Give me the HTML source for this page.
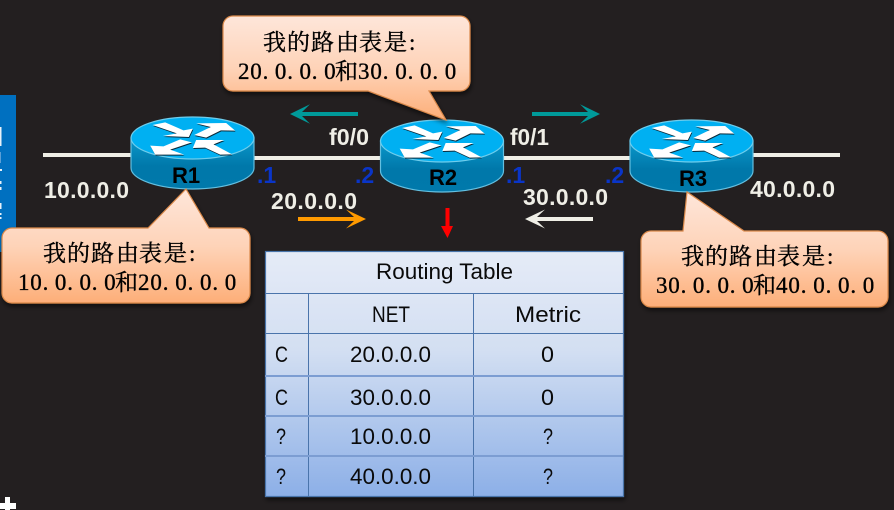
<!DOCTYPE html>
<html><head><meta charset="utf-8">
<style>
html,body{margin:0;padding:0;background:#231f20;width:894px;height:510px;overflow:hidden}
svg{display:block}
.lab{font:bold 23px "Liberation Sans",sans-serif;fill:#efeee6}
.ip{font:bold 23px "Liberation Sans",sans-serif;fill:#0a35c8}
.r{font:bold 22px "Liberation Sans",sans-serif;fill:#000;text-anchor:middle}
.c{font:23px "Liberation Serif","Noto Serif CJK SC",serif;fill:#000;stroke:#000;stroke-width:.35}
.t{font:22px "Liberation Sans","DejaVu Sans",sans-serif;fill:#0a0a0a}
</style></head><body>
<svg width="894" height="510" viewBox="0 0 894 510" xmlns="http://www.w3.org/2000/svg">
<defs>
<linearGradient id="cg" x1="0" y1="0" x2="0" y2="1"><stop offset="0" stop-color="#fee6da"/><stop offset=".5" stop-color="#fed3b8"/><stop offset="1" stop-color="#fdae78"/></linearGradient>
<linearGradient id="tg" x1="0" y1="0" x2="0" y2="1"><stop offset="0" stop-color="#e5ebf7"/><stop offset=".4" stop-color="#d3dff2"/><stop offset="1" stop-color="#8cafe7"/></linearGradient>
<linearGradient id="sg" x1="0" y1="0" x2="0" y2="1"><stop offset="0" stop-color="#0a98cb"/><stop offset=".55" stop-color="#0078aa"/><stop offset="1" stop-color="#0079ab"/></linearGradient>
<filter id="sh" x="-10%" y="-10%" width="120%" height="130%"><feDropShadow dx="1" dy="3" stdDeviation="2.5" flood-color="#000" flood-opacity=".55"/></filter>
<g id="ar">
<polygon points="97,60 135,52 190,76 218,71 206,96 128,93 170,85"/>
<polygon points="222,90 258,98 302,76 345,77 318,54 228,55 272,66"/>
<polygon points="90,122 105,149 192,149 150,134 215,112 180,103 130,124"/>
<polygon points="218,129 228,105 312,105 280,118 336,148 300,149 255,128"/>
</g>
<g id="rt">
<path d="M-61.5 0V30A61.5 21 0 0 0 61.5 30V0Z" fill="url(#sg)" stroke="#63bfe0" stroke-width="1.2"/>
<ellipse cx="0" cy="0" rx="61.5" ry="21" fill="#00b0f2" stroke="#6fcdec" stroke-width="1.2"/>
<g transform="scale(.3333) translate(-217 -99)">
<use href="#ar" x="1.5" y="3" fill="#0a2a3a"/>
<use href="#ar" fill="#fff"/>
</g>
</g>
</defs>
<rect width="894" height="510" fill="#231f20"/>
<rect x="0" y="95" width="16" height="157" fill="#0070c0"/>
<g fill="#e8f1f8">
<rect x="0" y="127" width="1.5" height="19"/><rect x="0" y="152" width="1" height="11" fill="#5b9fd6"/>
<rect x="0" y="169" width="2" height="2"/><rect x="0" y="181" width="1.5" height="3"/><rect x="0" y="187" width="1.5" height="3"/>
<rect x="0" y="203" width="1.5" height="6"/><rect x="0" y="213" width="1.5" height="2"/><rect x="0" y="217" width="1.5" height="2"/>
</g>
<rect x="5" y="497" width="5" height="13" fill="#fff"/><rect x="0" y="503" width="16" height="6" fill="#fff"/>

<rect x="43" y="153" width="90" height="4" fill="#efeee6"/>
<rect x="250" y="156" width="384" height="4" fill="#efeee6"/>
<rect x="750" y="153" width="90" height="4" fill="#efeee6"/>

<use href="#rt" x="192.5" y="138"/>
<use href="#rt" x="442" y="141"/>
<use href="#rt" x="691.5" y="141"/>
<text class="r" x="186" y="183">R1</text>
<text class="r" x="443" y="185">R2</text>
<text class="r" x="693" y="186">R3</text>

<!-- callouts -->
<path filter="url(#sh)" d="M12 228H148L186 189L209 228H240a10 10 0 0 1 10 10V293a10 10 0 0 1 -10 10H12a10 10 0 0 1 -10 -10V238a10 10 0 0 1 10 -10Z" fill="url(#cg)" stroke="#d9884a" stroke-width="1.2"/>
<path filter="url(#sh)" d="M233 16H460a10 10 0 0 1 10 10V81a10 10 0 0 1 -10 10H429L446 120L368 91H233a10 10 0 0 1 -10 -10V26a10 10 0 0 1 10 -10Z" fill="url(#cg)" stroke="#d9884a" stroke-width="1.2"/>
<path filter="url(#sh)" d="M651 231H683L687 192L744 231H878a10 10 0 0 1 10 10V297a10 10 0 0 1 -10 10H651a10 10 0 0 1 -10 -10V241a10 10 0 0 1 10 -10Z" fill="url(#cg)" stroke="#d9884a" stroke-width="1.2"/>
<text class="c" x="43 67 91 116 139 164 189" y="261">我的路由表是:</text>
<text class="c" x="18 30.3 42.6 54.9 67.2 79.5 91.8 104.1 115 138 150.4 162.8 175.2 187.6 200 212.4 224.8" y="290">10.0.0.0和20.0.0.0</text>
<text class="c" x="263 287 311 336 359 384 409" y="50">我的路由表是:</text>
<text class="c" x="238 250.3 262.6 274.9 287.2 299.5 311.8 324.1 335 358 370.4 382.8 395.2 407.6 420 432.4 444.8" y="79">20.0.0.0和30.0.0.0</text>
<text class="c" x="681 705 729 754 777 802 827" y="264">我的路由表是:</text>
<text class="c" x="656 668.3 680.6 692.9 705.2 717.5 729.8 742.1 753 776 788.4 800.8 813.2 825.6 838 850.4 862.8" y="293">30.0.0.0和40.0.0.0</text>

<!-- labels -->
<text class="lab" x="44" y="198" textLength="85">10.0.0.0</text>
<text class="lab" x="271" y="209" textLength="86">20.0.0.0</text>
<text class="lab" x="523" y="205" textLength="85">30.0.0.0</text>
<text class="lab" x="750" y="197" textLength="85">40.0.0.0</text>
<text class="lab" x="329" y="145" textLength="40" lengthAdjust="spacingAndGlyphs">f0/0</text>
<text class="lab" x="510" y="145" textLength="39" lengthAdjust="spacingAndGlyphs">f0/1</text>
<text class="ip" x="257" y="183">.1</text>
<text class="ip" x="355" y="183">.2</text>
<text class="ip" x="506" y="183">.1</text>
<text class="ip" x="605" y="183">.2</text>

<!-- arrows -->
<g fill="#009a9a"><path d="M358 112H302L310 104.3L290 114L310 123.7L302 116H358Z"/><path d="M532 112H588L580 104.3L600 114L580 123.7L588 116H532Z"/></g>
<path d="M298 217H354L346 209.5L366 219L346 228.5L354 221H298Z" fill="#ff9a00"/>
<path d="M593 217H537L545 209.5L525 219L545 228.5L537 221H593Z" fill="#efeee6"/>
<path d="M445.5 208H449.5V226H453L447.5 238L441 226H445.5Z" fill="#f00"/>

<!-- table -->
<g filter="url(#sh)"><rect x="265.5" y="251.5" width="358" height="245" fill="url(#tg)" stroke="#4a74ab" stroke-width="1.2"/></g>
<g stroke="#4a74ab" stroke-width="1" fill="none">
<path d="M265 293.5H623M265 333.5H623"/>
<path d="M308.5 293V496M473.5 293V496"/>
</g>
<g stroke="#7c9dd2" stroke-width="2" fill="none"><path d="M265 376H623M265 416H623M265 456H623"/></g>
<text class="t" x="376" y="279" textLength="137" lengthAdjust="spacingAndGlyphs">Routing Table</text>
<text class="t" x="372" y="322" textLength="38" lengthAdjust="spacingAndGlyphs">NET</text>
<text class="t" x="515" y="322" textLength="66" lengthAdjust="spacingAndGlyphs">Metric</text>
<text class="t" x="275" y="362" textLength="13" lengthAdjust="spacingAndGlyphs">C</text>
<text class="t" x="350" y="362" textLength="81" lengthAdjust="spacingAndGlyphs">20.0.0.0</text>
<text class="t" x="541" y="362" textLength="13" lengthAdjust="spacingAndGlyphs">0</text>
<text class="t" x="275" y="405" textLength="13" lengthAdjust="spacingAndGlyphs">C</text>
<text class="t" x="350" y="405" textLength="81" lengthAdjust="spacingAndGlyphs">30.0.0.0</text>
<text class="t" x="541" y="405" textLength="13" lengthAdjust="spacingAndGlyphs">0</text>
<text class="t" x="276" y="444" textLength="10" lengthAdjust="spacingAndGlyphs">?</text>
<text class="t" x="350" y="444" textLength="81" lengthAdjust="spacingAndGlyphs">10.0.0.0</text>
<text class="t" x="543" y="444" textLength="10" lengthAdjust="spacingAndGlyphs">?</text>
<text class="t" x="276" y="484" textLength="10" lengthAdjust="spacingAndGlyphs">?</text>
<text class="t" x="350" y="484" textLength="81" lengthAdjust="spacingAndGlyphs">40.0.0.0</text>
<text class="t" x="543" y="484" textLength="10" lengthAdjust="spacingAndGlyphs">?</text>
</svg>
</body></html>
